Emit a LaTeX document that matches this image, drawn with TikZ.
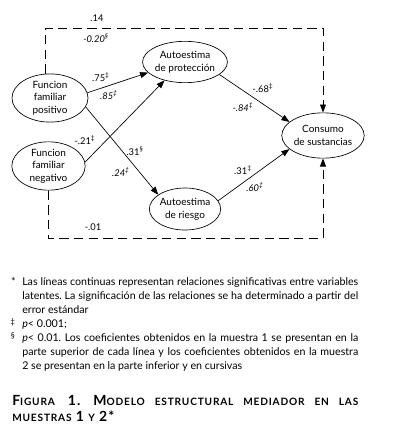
\documentclass[tikz,border=0pt]{standalone}
\usepackage{fontspec}
\setmainfont{Lato}
\usetikzlibrary{shapes.geometric,arrows.meta}
\newcommand\BigC[1]{{\fontsize{10.5}{15}\selectfont #1}}
\newcommand\SmC[1]{{\fontsize{7.6}{15}\selectfont #1}}
\frenchspacing
\begin{document}
\begin{tikzpicture}[x=0.75pt,y=-0.75pt,
  var/.style={ellipse,draw,line width=0.5pt,inner sep=0pt,align=center,
    font=\fontsize{7.5}{9.4}\selectfont},
  arr/.style={-{Triangle[length=6pt,width=4.5pt]},line width=0.5pt},
  darr/.style={-{Triangle[length=6pt,width=4.5pt]},line width=0.7pt,dash pattern=on 7pt off 4pt},
  lab/.style={font=\fontsize{7}{8}\selectfont,inner sep=0pt},
  ilab/.style={font=\fontsize{7}{8}\selectfont\itshape,inner sep=0pt}]
\useasboundingbox (0,0) rectangle (400,439);
% nodes
\node[var,minimum width=57pt,minimum height=30pt] (pos) at (50,98) {Funcion\\familiar\\positivo};
\node[var,minimum width=55pt,minimum height=31.5pt] (neg) at (48.5,166) {Funcion\\familiar\\negativo};
\node[var,minimum width=52.5pt,minimum height=31pt] (prot) at (185,62) {Autoestima\\de protección};
\node[var,minimum width=52.5pt,minimum height=34pt] (cons) at (323,135.5) {Consumo\\de sustancias};
\node[var,minimum width=52.5pt,minimum height=31.5pt] (ries) at (185,209) {Autoestima\\de riesgo};
% dashed connectors
\coordinate (tl) at (45,28);
\coordinate (bl) at (48,238);
\draw[darr] (pos.north -| tl) -- (tl) -| (cons.north);
\draw[darr] (neg.south -| bl) -- (bl) -| (cons.south);
% solid connectors
\draw[arr] (pos.8) -- (prot.196);
\draw[arr] (neg.6) -- (prot.222);
\draw[arr] (pos.-14) -- (ries.152);
\draw[arr] (prot.-20) -- (cons.158);
\draw[arr] (ries.14) -- (cons.202);
% labels
\node[lab] (l14) at (97,18) {.14};
\node[ilab] (l20) at (96,38) {-0.20\textsuperscript{§}};
\node[lab] (l75) at (101,77) {.75\textsuperscript{‡}};
\node[ilab] (l85) at (109,95) {.85\textsuperscript{‡}};
\node[lab] (l21) at (85,140) {-.21\textsuperscript{‡}};
\node[lab] (l31a) at (135,151) {.31\textsuperscript{§}};
\node[ilab] (l24) at (121,172) {.24\textsuperscript{‡}};
\node[lab] (l68) at (263,88) {-.68\textsuperscript{‡}};
\node[ilab] (l84) at (243,107) {-.84\textsuperscript{‡}};
\node[lab] (l31b) at (243,170) {.31\textsuperscript{‡}};
\node[ilab] (l60) at (255,187) {.60\textsuperscript{‡}};
\node[lab] (l01) at (93,227) {-.01};
% footnotes
\node[anchor=north west,inner sep=0pt,text width=252pt,align=justify,
  font=\fontsize{8}{10.5}\selectfont] (notes) at (22,277.5) {%
\noindent\llap{*\hspace{5pt}}Las líneas continuas representan relaciones significativas entre variables\linebreak
latentes. La significación de las relaciones se ha determinado a partir del\linebreak
error estándar\par
\noindent\llap{\textsuperscript{‡}\hspace{5pt}}\textit{p}< 0.001;\par
\noindent\llap{\textsuperscript{§}\hspace{5pt}}\textit{p}< 0.01. Los coeficientes obtenidos en la muestra 1 se presentan en la\linebreak
parte superior de cada línea y los coeficientes obtenidos en la muestra\linebreak
2 se presentan en la parte inferior y en cursivas\par};
% caption
\node[anchor=north west,inner sep=0pt,text width=259.5pt,align=justify,
  font=\bfseries\addfontfeature{LetterSpace=8}] (cap) at (12,395) {%
\BigC{F}\SmC{IGURA} \BigC{1.} \BigC{M}\SmC{ODELO ESTRUCTURAL MEDIADOR EN LAS}\linebreak
\SmC{MUESTRAS} \BigC{1} \SmC{Y} \BigC{2*}};
\end{tikzpicture}
\end{document}
